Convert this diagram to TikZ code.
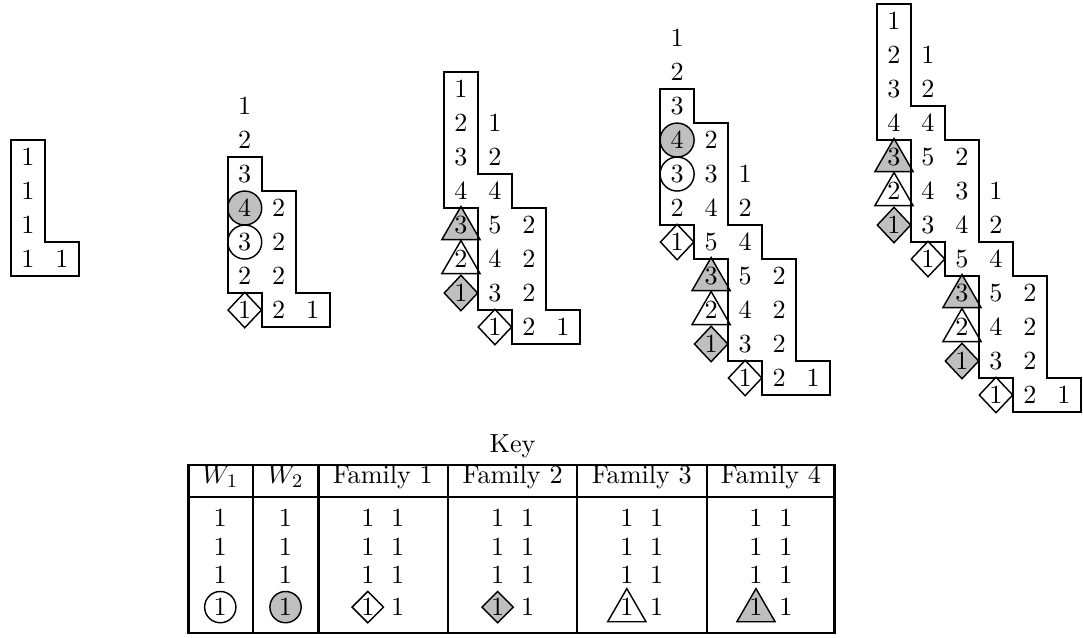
\documentclass[tikz,border=0pt]{standalone}
\usetikzlibrary{shapes.geometric}
\begin{document}
\begin{tikzpicture}[
    font=\fontsize{10.95}{13.6}\selectfont,
    num/.style={inner sep=0pt},
    outl/.style={line width=1pt},
    shp/.style={draw, semithick, inner sep=0pt},
    circ/.style={shp, circle, minimum size=0.5cm},
    dia/.style={shp, diamond, minimum width=0.5cm, minimum height=0.53cm},
    tri/.style={shp, regular polygon, regular polygon sides=3, minimum size=0.65cm, yshift=-1.5pt},
    gcirc/.style={circ, fill=black!25},
    wcirc/.style={circ, fill=white},
    gdia/.style={dia, fill=black!25},
    wdia/.style={dia, fill=white},
    gtri/.style={tri, fill=black!25},
    wtri/.style={tri, fill=white}
  ]
\useasboundingbox (0,0) rectangle (15.93,-9.37);

% tableaux, left to right
\begin{scope}[shift={(0.16cm,-2.06cm)}, x=0.5cm, y=0.5cm, name prefix=d1-]
  \foreach \c/\r/\ds in {1/1/{1,1,1,1}, 2/4/{1}}
    \foreach \d [count=\k from \r] in \ds
      \node[num] (\c-\k) at (\c-0.5,0.5-\k) {\d};
  \draw[outl] (0,0) -- (1,0) -- (1,-3) -- (2,-3) -- (2,-4) -- (0,-4) -- cycle;
\end{scope}

\begin{scope}[shift={(3.35cm,-1.31cm)}, x=0.5cm, y=0.5cm, name prefix=d2-]
  \foreach \c/\r/\s in {1/4/gcirc, 1/5/wcirc, 1/7/wdia}
    \node[\s] (s\c-\r) at (\c-0.5,0.5-\r) {};
  \foreach \c/\r/\ds in {1/1/{1,2,3,4,3,2,1}, 2/4/{2,2,2,2}, 3/7/{1}}
    \foreach \d [count=\k from \r] in \ds
      \node[num] (\c-\k) at (\c-0.5,0.5-\k) {\d};
  \draw[outl] (0,-2) -- (1,-2) -- (1,-3) -- (2,-3) -- (2,-6) -- (3,-6) -- (3,-7)
    -- (1,-7) -- (1,-6) -- (0,-6) -- cycle;
\end{scope}

\begin{scope}[shift={(6.53cm,-1.06cm)}, x=0.5cm, y=0.5cm, name prefix=d3-]
  \foreach \c/\r/\s in {1/5/gtri, 1/6/wtri, 1/7/gdia, 2/8/wdia}
    \node[\s] (s\c-\r) at (\c-0.5,0.5-\r) {};
  \foreach \c/\r/\ds in {1/1/{1,2,3,4,3,2,1}, 2/2/{1,2,4,5,4,3,1}, 3/5/{2,2,2,2}, 4/8/{1}}
    \foreach \d [count=\k from \r] in \ds
      \node[num] (\c-\k) at (\c-0.5,0.5-\k) {\d};
  \draw[outl] (0,0) -- (1,0) -- (1,-3) -- (2,-3) -- (2,-4) -- (3,-4) -- (3,-7) -- (4,-7)
    -- (4,-8) -- (2,-8) -- (2,-7) -- (1,-7) -- (1,-4) -- (0,-4) -- cycle;
\end{scope}

\begin{scope}[shift={(9.71cm,-0.31cm)}, x=0.5cm, y=0.5cm, name prefix=d4-]
  \foreach \c/\r/\s in {1/4/gcirc, 1/5/wcirc, 1/7/wdia, 2/8/gtri, 2/9/wtri, 2/10/gdia, 3/11/wdia}
    \node[\s] (s\c-\r) at (\c-0.5,0.5-\r) {};
  \foreach \c/\r/\ds in {1/1/{1,2,3,4,3,2,1}, 2/4/{2,3,4,5,3,2,1}, 3/5/{1,2,4,5,4,3,1}, 4/8/{2,2,2,2}, 5/11/{1}}
    \foreach \d [count=\k from \r] in \ds
      \node[num] (\c-\k) at (\c-0.5,0.5-\k) {\d};
  \draw[outl] (0,-2) -- (1,-2) -- (1,-3) -- (2,-3) -- (2,-6) -- (3,-6) -- (3,-7) -- (4,-7)
    -- (4,-10) -- (5,-10) -- (5,-11) -- (3,-11) -- (3,-10) -- (2,-10) -- (2,-7) -- (1,-7)
    -- (1,-6) -- (0,-6) -- cycle;
\end{scope}

\begin{scope}[shift={(12.9cm,-0.06cm)}, x=0.5cm, y=0.5cm, name prefix=d5-]
  \foreach \c/\r/\s in {1/5/gtri, 1/6/wtri, 1/7/gdia, 2/8/wdia, 3/9/gtri, 3/10/wtri, 3/11/gdia, 4/12/wdia}
    \node[\s] (s\c-\r) at (\c-0.5,0.5-\r) {};
  \foreach \c/\r/\ds in {1/1/{1,2,3,4,3,2,1}, 2/2/{1,2,4,5,4,3,1}, 3/5/{2,3,4,5,3,2,1}, 4/6/{1,2,4,5,4,3,1}, 5/9/{2,2,2,2}, 6/12/{1}}
    \foreach \d [count=\k from \r] in \ds
      \node[num] (\c-\k) at (\c-0.5,0.5-\k) {\d};
  \draw[outl] (0,0) -- (1,0) -- (1,-3) -- (2,-3) -- (2,-4) -- (3,-4) -- (3,-7) -- (4,-7)
    -- (4,-8) -- (5,-8) -- (5,-11) -- (6,-11) -- (6,-12) -- (4,-12) -- (4,-11) -- (3,-11)
    -- (3,-8) -- (2,-8) -- (2,-7) -- (1,-7) -- (1,-4) -- (0,-4) -- cycle;
\end{scope}

% key
\node[anchor=base] (key) at (7.54,-6.65) {Key};
\draw[very thick] (2.77,-6.84) rectangle (12.28,-9.31);
\draw[thick] (2.77,-7.31) -- (12.28,-7.31);
\foreach \x in {3.72,6.59,8.49,10.4}
  \draw[thick] (\x,-6.84) -- (\x,-9.31);
\draw[very thick] (4.68,-6.84) -- (4.68,-9.31);
\foreach \x/\t [count=\i] in {3.24/$W_1$, 4.2/$W_2$, 5.63/Family 1, 7.54/Family 2, 9.44/Family 3, 11.34/Family 4}
  \node[anchor=base] (h\i) at (\x,-7.11) {\t};
\foreach \x/\s [count=\i] in {3.24/wcirc, 4.2/gcirc} {
  \node[\s, minimum size=0.46cm] (ws\i) at (\x,-8.93) {};
  \foreach \y [count=\j] in {-7.62,-8.04,-8.46,-8.93}
    \node[num] (w\i-\j) at (\x,\y) {1};
}
\foreach \x/\s/\m [count=\i] in {5.63/wdia/0.47cm, 7.54/gdia/0.47cm, 9.44/wtri/0.65cm, 11.34/gtri/0.65cm} {
  \node[\s, minimum size=\m] (fs\i) at (\x-0.22,-8.93) {};
  \foreach \y [count=\j] in {-7.62,-8.04,-8.46,-8.93} {
    \node[num] (f\i-a\j) at (\x-0.22,\y) {1};
    \node[num] (f\i-b\j) at (\x+0.22,\y) {1};
  }
}
\end{tikzpicture}
\end{document}
